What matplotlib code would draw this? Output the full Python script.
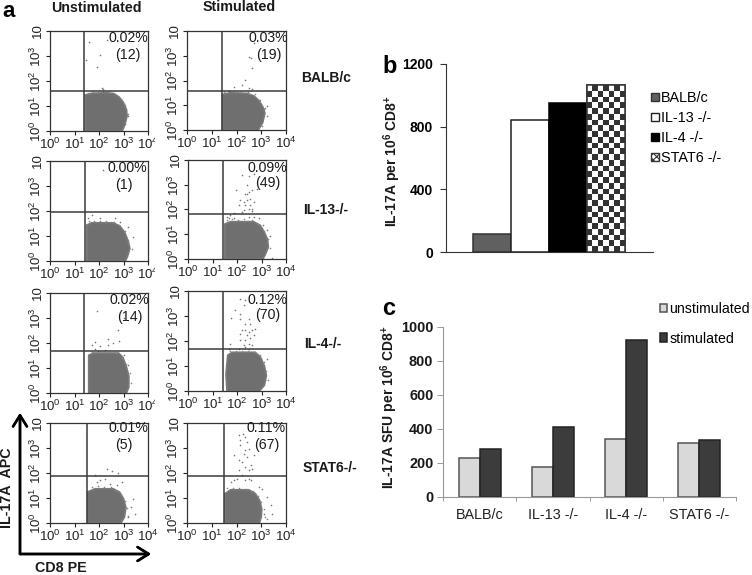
import numpy as np
import matplotlib
matplotlib.use('Agg')
import matplotlib.pyplot as plt
from matplotlib.patches import Patch
from matplotlib.transforms import Bbox

plt.rcParams['font.family'] = ['Liberation Sans', 'DejaVu Sans']
plt.rcParams['mathtext.fontset'] = 'custom'
plt.rcParams['mathtext.rm'] = 'Liberation Sans'
plt.rcParams['mathtext.bf'] = 'Liberation Sans:bold'
plt.rcParams['hatch.linewidth'] = 0.8

W, H = 752, 575

# flow panels, everything in log10 decades
pct = ['0.02%', '0.03%', '0.00%', '0.09%', '0.02%', '0.12%', '0.01%', '0.11%']
counts = ['(12)', '(19)', '(1)', '(49)', '(14)', '(70)', '(5)', '(67)']
gate_x = [1.39, 1.41, 1.43, 1.42, 1.40, 1.42, 1.50, 1.50]
gate_y = [1.60, 1.56, 1.96, 1.80, 1.68, 1.68, 1.88, 1.88]

blob_x = [
    [1.43, 1.43, 1.70, 2.31, 2.60, 2.82, 3.00, 3.12, 3.15, 3.05, 2.95],
    [1.43, 1.43, 1.76, 2.43, 2.70, 2.92, 3.08, 3.15, 3.06, 2.88],
    [1.50, 1.50, 1.70, 2.58, 2.85, 3.05, 3.20, 3.26, 3.16, 3.08],
    [1.50, 1.50, 1.73, 2.68, 2.95, 3.12, 3.25, 3.28, 3.14, 3.04],
    [1.58, 1.58, 1.78, 2.80, 2.98, 3.12, 3.22, 3.22, 3.12],
    [1.59, 1.55, 1.62, 1.80, 2.74, 2.96, 3.12, 3.20, 3.12, 2.92],
    [1.53, 1.53, 1.84, 2.58, 2.84, 3.00, 3.10, 3.04, 2.90],
    [1.53, 1.53, 1.76, 2.50, 2.76, 2.94, 3.02, 3.00, 2.93],
]
blob_y = [
    [0, 1.44, 1.51, 1.53, 1.50, 1.36, 1.14, 0.86, 0.60, 0.24, 0],
    [0, 1.44, 1.51, 1.48, 1.38, 1.18, 0.90, 0.68, 0.30, 0],
    [0, 1.44, 1.53, 1.53, 1.40, 1.15, 0.78, 0.50, 0.17, 0],
    [0, 1.41, 1.51, 1.51, 1.36, 1.08, 0.78, 0.48, 0.14, 0],
    [0, 1.51, 1.60, 1.60, 1.42, 1.05, 0.68, 0.24, 0],
    [0, 0.69, 1.43, 1.55, 1.55, 1.36, 1.00, 0.62, 0.23, 0],
    [0, 1.24, 1.37, 1.37, 1.24, 0.98, 0.62, 0.24, 0],
    [0, 1.17, 1.33, 1.33, 1.18, 0.90, 0.56, 0.24, 0],
]
dots_x = [
    [1.61, 1.47, 2.04, 1.93, 2.33, 2.12, 2.18, 3.10, 3.18, 3.05],
    [2.70, 2.50, 2.59, 2.64, 2.36, 2.23, 2.50, 1.89, 2.64, 3.11, 3.04, 3.24],
    [2.18, 1.70, 1.57, 2.04, 2.65, 2.85, 3.39, 3.19],
    [2.47, 2.68, 2.20, 2.41, 2.47, 2.34, 2.61, 1.97, 2.81, 2.14, 2.27, 2.41, 2.54, 2.68, 2.07, 2.34, 2.54, 2.47,
     2.61, 2.27, 2.20, 1.86, 1.73, 2.61, 2.41, 1.66, 1.59, 1.86, 2.47, 2.68, 2.88, 3.08, 3.35, 3.22, 3.42, 3.08],
    [1.92, 2.76, 3.00, 1.85, 1.72, 2.35, 2.80, 2.59, 2.35, 2.05, 1.85, 3.00, 3.20, 2.26],
    [2.14, 2.34, 1.93, 2.11, 2.27, 1.76, 2.11, 2.34, 2.47, 2.54, 2.74, 2.61, 2.34, 2.47, 2.14, 2.20, 2.41,
     2.68, 2.54, 2.34, 2.14, 2.47, 2.27, 2.61, 1.73, 1.66, 2.07, 2.34, 2.47, 3.22, 3.08, 2.95, 3.15],
    [2.34, 2.55, 2.78, 1.84, 2.24, 2.04, 1.91, 2.45, 2.72, 2.92, 3.39, 3.32, 3.46, 3.19],
    [2.09, 2.27, 2.36, 2.16, 2.43, 1.89, 2.16, 2.36, 2.50, 2.70, 2.09, 2.30, 2.43, 2.23, 2.57, 2.64, 2.36,
     2.09, 2.50, 2.23, 2.03, 1.89, 2.50, 2.57, 1.76, 2.36, 3.24, 3.38, 3.11, 3.45, 3.24, 2.91, 3.04],
]
dots_y = [
    [3.57, 2.84, 3.04, 2.57, 3.63, 1.71, 1.67, 0.85, 0.60, 0.30],
    [3.51, 2.95, 2.91, 2.51, 2.04, 1.80, 1.71, 1.75, 1.67, 0.84, 0.17, 0.97],
    [3.64, 1.84, 1.71, 1.71, 1.71, 1.57, 0.95, 1.35],
    [3.37, 3.44, 3.41, 2.97, 2.71, 2.64, 2.77, 2.77, 2.84, 2.37, 2.31, 2.37, 2.44, 2.31, 2.17, 2.17, 2.17, 2.00,
     1.93, 1.97, 1.91, 1.84, 1.77, 2.04, 2.64, 1.64, 1.71, 1.64, 1.71, 1.71, 1.64, 1.37, 0.91, 1.17, 0.04, 0.04],
    [3.28, 2.51, 3.01, 2.04, 1.91, 2.17, 2.07, 2.01, 1.91, 1.87, 1.77, 1.51, 1.11, 1.71],
    [3.69, 3.63, 3.25, 3.09, 3.43, 2.93, 2.89, 2.69, 2.89, 2.69, 2.49, 2.43, 2.43, 2.36, 2.29, 2.43, 2.23,
     2.23, 2.13, 2.03, 2.03, 1.89, 1.83, 1.83, 1.89, 1.69, 1.69, 1.76, 1.69, 1.29, 0.96, 1.23, 0.43],
    [2.17, 2.08, 2.00, 1.91, 1.77, 1.71, 1.64, 1.57, 1.51, 1.64, 0.97, 0.64, 0.37, 0.24],
    [3.51, 3.55, 3.44, 3.31, 3.24, 2.71, 3.11, 2.91, 2.97, 2.71, 2.51, 2.77, 2.64, 2.44, 2.31, 2.17, 2.24,
     2.11, 2.11, 1.91, 1.77, 1.71, 1.77, 1.71, 1.64, 1.71, 1.04, 0.71, 0.37, 0.37, 0.17, 1.44, 1.37],
]
# speckle just above the dense area, read per panel
rim_x = [
    [1.55, 1.75, 1.95, 2.15, 2.4, 2.65, 2.9, 3.05, 3.2],
    [1.5, 1.7, 1.95, 2.2, 2.45, 2.75, 2.95, 3.15, 3.25],
    [1.6, 1.8, 2.05, 2.3, 2.6, 2.8, 3.05, 3.2, 3.33],
    [1.6, 1.8, 2.05, 2.3, 2.6, 2.85, 3.1, 3.25, 3.36],
    [1.7, 1.95, 2.2, 2.45, 2.7, 2.95, 3.1, 3.25, 3.3],
    [1.7, 1.95, 2.2, 2.45, 2.75, 2.95, 3.1, 3.2, 3.28],
    [1.7, 1.95, 2.2, 2.5, 2.7, 2.9, 3.05, 3.15, 3.2],
    [1.6, 1.85, 2.1, 2.4, 2.65, 2.85, 3.0, 3.1, 3.15],
]
rim_y = [
    [1.52, 1.58, 1.57, 1.60, 1.58, 1.50, 1.30, 1.05, 0.70],
    [1.52, 1.56, 1.55, 1.54, 1.53, 1.45, 1.22, 0.90, 0.55],
    [1.60, 1.62, 1.60, 1.62, 1.58, 1.45, 1.20, 0.85, 0.50],
    [1.58, 1.60, 1.58, 1.60, 1.56, 1.40, 1.12, 0.80, 0.45],
    [1.66, 1.68, 1.65, 1.66, 1.62, 1.42, 1.15, 0.80, 0.40],
    [1.60, 1.62, 1.60, 1.62, 1.58, 1.45, 1.15, 0.80, 0.45],
    [1.45, 1.48, 1.45, 1.44, 1.30, 1.12, 0.90, 0.60, 0.30],
    [1.40, 1.42, 1.40, 1.38, 1.28, 1.10, 0.85, 0.55, 0.25],
]
row_names = ['BALB/c', 'IL-13-/-', 'IL-4-/-', 'STAT6-/-']

# panel b
b_names = ['BALB/c', 'IL-13 -/-', 'IL-4 -/-', 'STAT6 -/-']
b_vals = [113, 842, 953, 1064]

# panel c
c_names = ['BALB/c', 'IL-13 -/-', 'IL-4 -/-', 'STAT6 -/-']
c_unstim = [229, 175, 343, 320]
c_stim = [282, 412, 925, 333]

# pixel boxes of the flow plots: left, top, right, bottom
boxes = [(50, 31, 148, 131), (187, 31, 286, 130),
         (50, 161, 148, 261), (188, 160, 286, 259),
         (50, 293, 148, 393), (188, 291, 286, 391),
         (50, 423, 148, 523), (187, 423, 286, 523)]
pct_pos = [(128, 38), (268, 38), (127, 168), (267, 168), (129, 300), (267, 300), (128, 428), (266, 428)]
cnt_pos = [(128, 55), (269, 55), (124, 185), (268, 183), (130, 317), (268, 315), (124, 445), (267, 445)]
row_pos = [(301, 78), (303, 210), (304, 344), (303, 468)]

fig = plt.figure(figsize=(W / 100, H / 100), dpi=100)


def ax_px(l, t, r, b):
    return fig.add_axes([l / W, 1 - b / H, (r - l) / W, (b - t) / H])


def txt(x, y, s, **kw):
    kw.setdefault('ha', 'center')
    kw.setdefault('va', 'center')
    return fig.text(x / W, 1 - y / H, s, **kw)


for i, box in enumerate(boxes):
    ax = ax_px(*box)
    ax.set_xscale('log')
    ax.set_yscale('log')
    ax.set_xlim(1, 1e4)
    ax.set_ylim(1, 1e4)
    ax.fill(10 ** np.array(blob_x[i]), 10 ** np.array(blob_y[i]), fc='#6f6f6f', ec='#7a7a7a', lw=1.2, zorder=2)
    ax.scatter(10 ** np.array(dots_x[i]), 10 ** np.array(dots_y[i]), s=1.4, color='#777777', lw=0, zorder=2)
    ax.scatter(10 ** np.array(rim_x[i]), 10 ** np.array(rim_y[i]), s=1.4, color='#888888', lw=0, zorder=2)
    ax.axvline(10 ** gate_x[i], color='#3a3a3a', lw=1.1, zorder=3)
    ax.axhline(10 ** gate_y[i], color='#3a3a3a', lw=1.1, zorder=3)
    for sp in ax.spines.values():
        sp.set_color('#333333')
        sp.set_linewidth(0.9)
    dec = [1, 10, 100, 1000, 10000]
    ax.set_xticks(dec)
    ax.set_yticks(dec)
    ax.set_xticklabels(['10$^{%d}$' % k for k in range(5)], fontsize=9.5)
    ax.set_yticklabels(['10$^{%d}$' % k for k in range(4)] + ['10'], fontsize=9.5,
                       rotation=90, va='center')
    ax.tick_params(which='major', length=3, width=0.8, pad=1.5, color='#222222', labelcolor='#222222')
    ax.tick_params(which='minor', length=2, width=0.6, color='#222222', labelleft=False, labelbottom=False)
    # the last label is cut off at the image edge of the original crop
    if i in (0, 2, 4):
        fig.canvas.draw()
        lab = ax.get_xticklabels()[-1]
        lab.set_clip_on(True)
        lab.set_clip_box(Bbox([[0, 0], [box[2] + 7, fig.bbox.height]]))
    txt(*pct_pos[i], pct[i], fontsize=10.2, color='#1a1a1a')
    txt(*cnt_pos[i], counts[i], fontsize=10.2, color='#1a1a1a')

for pos, name in zip(row_pos, row_names):
    txt(*pos, name, ha='left', fontsize=10, fontweight='bold', color='#1a1a1a')

txt(96, 8, 'Unstimulated', fontsize=10.3, fontweight='bold', color='#1a1a1a')
txt(239, 7, 'Stimulated', fontsize=10.3, fontweight='bold', color='#1a1a1a')
txt(2, 17, 'a', ha='left', va='baseline', fontsize=16, fontweight='bold')
txt(382, 73, 'b', ha='left', va='baseline', fontsize=17, fontweight='bold')
txt(382, 315, 'c', ha='left', va='baseline', fontsize=17, fontweight='bold')

# big axis arrows for the flow plots
for end in [(20, 413), (151, 554)]:
    fig.add_artist(plt.annotate('', xy=(end[0], H - end[1]), xytext=(20, H - 554),
                                xycoords='figure pixels', textcoords='figure pixels',
                                arrowprops=dict(arrowstyle='->,head_length=0.8,head_width=0.5', lw=1.8,
                                                color='black', shrinkA=0, shrinkB=0)))
txt(7, 488, 'IL-17A  APC', rotation=90, fontsize=10.3, fontweight='bold', color='#1a1a1a')
txt(61, 568, 'CD8 PE', fontsize=10.3, fontweight='bold', color='#1a1a1a')

# panel b
ax = ax_px(446, 64, 653, 252)
xb = np.arange(len(b_vals))
b_face = ['#606060', 'white', 'black', 'white']
b_edge = ['#333333', '#222222', 'black', '#333333']
bars = ax.bar(xb, b_vals, width=1, color=b_face, edgecolor=b_edge, lw=1.1, zorder=2)
r = bars[3]
nx, ny = 7, 29
check = np.indices((ny, nx)).sum(axis=0) % 2
ax.imshow(check, cmap='gray_r', vmin=0, vmax=1.25, interpolation='nearest', aspect='auto', zorder=3,
          extent=(r.get_x(), r.get_x() + r.get_width(), 0, r.get_height()))
ax.add_patch(plt.Rectangle((r.get_x(), 0), r.get_width(), r.get_height(), fill=False, ec='#333333', lw=1.1, zorder=4))
ax.set_xlim(-1.21, 4.24)
ax.set_ylim(0, 1200)
ax.set_yticks([0, 400, 800, 1200])
ax.set_xticks([])
for lab in ax.get_yticklabels():
    lab.set_fontweight('bold')
ax.tick_params(axis='y', length=4.3, width=0.8, labelsize=10, pad=5, color='#333333')
ax.spines[['top', 'right']].set_visible(False)
ax.spines[['left', 'bottom']].set_color('#333333')
ax.set_facecolor('none')
txt(392, 161, 'IL-17A per 10$^{\\mathbf{6}}$ CD8$^{\\mathbf{+}}$', rotation=90, fontsize=10,
    fontweight='bold', color='#1a1a1a')
handles = [Patch(fc=b_face[0], ec=b_edge[0]), Patch(fc='white', ec='#222222'), Patch(fc='black', ec='black'),
           Patch(fc='white', ec='#333333', hatch='xxxxx')]
fig.legend(handles, b_names, loc='upper left', bbox_to_anchor=(651 / W, 1 - 91 / H), frameon=False,
           fontsize=10.4, handlelength=0.55, handleheight=0.55, handletextpad=0.15, labelspacing=0.42,
           borderpad=0, borderaxespad=0)

# panel c
ax = ax_px(443, 327, 736, 497)
xc = np.arange(len(c_names))
w = 0.287
ax.bar(xc - w / 2, c_unstim, w, color='#d9d9d9', edgecolor='#555555', lw=1.1, label='unstimulated')
ax.bar(xc + w / 2, c_stim, w, color='#3c3c3c', edgecolor='#222222', lw=1.1, label='stimulated')
ax.set_xlim(-0.5, 3.5)
ax.set_ylim(0, 1000)
ax.set_yticks(np.arange(0, 1001, 200))
ax.set_xticks(np.arange(-0.5, 3.6, 1))
ax.set_xticklabels([])
for x, name in zip(xc, c_names):
    ax.annotate(name, (x, 0), xytext=(0, -18), xycoords=('data', 'data'), textcoords='offset pixels',
                ha='center', va='center', fontsize=10.4, color='#222222', annotation_clip=False)
for lab in ax.get_yticklabels():
    lab.set_fontweight('bold')
ax.tick_params(axis='y', length=4, width=0.7, labelsize=10.4, pad=3, color='#999999', labelcolor='#1a1a1a')
ax.tick_params(axis='x', length=3, width=0.7, color='#999999')
ax.spines[['top', 'right']].set_visible(False)
ax.spines[['left', 'bottom']].set_color('#999999')
txt(389, 407, 'IL-17A SFU per 10$^{\\mathbf{6}}$ CD8$^{\\mathbf{+}}$', rotation=90, fontsize=10,
    fontweight='bold', color='#1a1a1a')
fig.legend(*ax.get_legend_handles_labels(), loc='upper left', bbox_to_anchor=(660 / W, 1 - 302 / H),
           frameon=False, fontsize=10.2, handlelength=0.5, handleheight=0.55, handletextpad=0.15,
           labelspacing=1.1, borderpad=0, borderaxespad=0)

fig.savefig('out.png', dpi=100)
